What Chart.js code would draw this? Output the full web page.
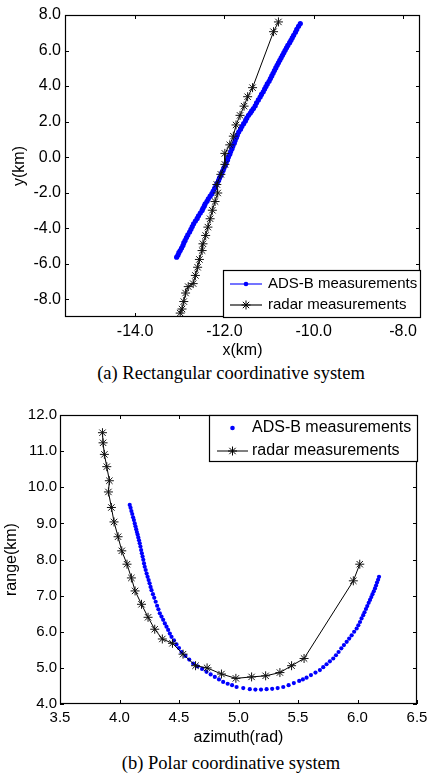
<!DOCTYPE html>
<html>
<head>
<meta charset="utf-8">
<script src="https://cdn.jsdelivr.net/npm/chart.js@4.4.1/dist/chart.umd.min.js"></script>
<style>
  body { margin: 0; background: #fff; }
  #lienzo { position: relative; width: 428px; height: 774px; }
  canvas { position: absolute; left: 0; }
  .pie {
    position: absolute; left: 231px; transform: translateX(-50%);
    font-family: 'Liberation Serif', 'Times New Roman', serif; font-size: 18.5px;
    line-height: 20px; white-space: nowrap; color: #000;
  }
</style>
</head>
<body>
<div id="lienzo">
  <canvas id="graficoXY" width="428" height="362" style="top:0"></canvas>
  <div class="pie" style="top:363px">(a) Rectangular coordinative system</div>
  <canvas id="graficoPolar" width="428" height="360" style="top:390px"></canvas>
  <div class="pie" style="top:753px">(b) Polar coordinative system</div>
</div>
<script>
// Trayectoria ADS-B en coordenadas rectangulares (km)
const adsbX = [-13.07,-13.04,-13.02,-12.99,-12.96,-12.93,-12.91,-12.88,-12.85,-12.82,-12.78,-12.75,-12.72,-12.69,
  -12.65,-12.61,-12.58,-12.54,-12.50,-12.48,-12.45,-12.43,-12.39,-12.36,-12.32,-12.28,-12.25,-12.22,-12.19,-12.16,-12.13,
  -12.11,-12.08,-12.06,-12.03,-12.01,-11.98,-11.96,-11.93,-11.91,-11.88,-11.86,-11.83,-11.81,-11.78,-11.76,-11.73,-11.71,-11.68,
  -11.64,-11.61,-11.57,-11.53,-11.50,-11.46,-11.42,-11.39,-11.35,-11.31,-11.28,-11.24,-11.20,
  -11.17,-11.13,-11.10,-11.07,-11.04,-11.00,-10.97,-10.94,-10.91,-10.88,-10.85,-10.82,
  -10.79,-10.76,-10.73,-10.70,-10.67,-10.64,-10.61,-10.58,-10.54,-10.51,-10.48,-10.45,-10.41,-10.38,-10.34,-10.30];
const adsbY = [-5.63,-5.51,-5.38,-5.26,-5.12,-4.98,-4.83,-4.69,-4.53,-4.38,-4.22,-4.06,-3.91,-3.75,
  -3.60,-3.45,-3.30,-3.15,-3.00,-2.88,-2.75,-2.63,-2.49,-2.35,-2.20,-2.06,-1.91,-1.76,-1.61,-1.46,-1.31,
  -1.17,-1.03,-0.89,-0.75,-0.61,-0.47,-0.31,-0.16,0.00,0.16,0.31,0.47,0.63,0.78,0.94,1.10,1.25,1.41,
  1.57,1.72,1.88,2.04,2.19,2.35,2.48,2.60,2.73,2.89,3.06,3.22,3.38,
  3.53,3.68,3.83,3.97,4.12,4.27,4.42,4.57,4.72,4.87,5.02,5.17,
  5.31,5.45,5.59,5.73,5.87,6.01,6.15,6.29,6.44,6.58,6.72,6.86,7.03,7.19,7.36,7.52];

// Medidas del radar en coordenadas rectangulares (km)
const radarX = [-10.79,-10.90,-11.37,-11.48,-11.56,-11.65,-11.74,-11.80,-11.88,-11.99,-11.99,-12.08,-12.17,-12.15,-12.21,
  -12.27,-12.32,-12.37,-12.42,-12.48,-12.50,-12.56,-12.60,-12.65,-12.70,-12.81,-12.87,-12.91,-12.95,-12.99];
const radarY = [7.61,7.06,3.91,3.40,2.87,2.35,1.81,1.18,0.69,0.21,-0.41,-0.97,-1.54,-2.02,-2.50,
  -2.99,-3.47,-3.94,-4.41,-4.88,-5.26,-5.76,-6.20,-6.66,-7.12,-7.29,-7.65,-8.13,-8.55,-8.78];

// Trayectoria ADS-B en coordenadas polares: azimut (rad) y rango (km)
const adsbAzimut = [4.086,4.093,4.100,4.107,4.114,4.121,4.128,4.134,4.140,4.146,4.152,4.158,4.164,4.170,
  4.176,4.182,4.188,4.194,4.200,4.206,4.212,4.220,4.228,4.236,4.245,4.253,4.261,4.269,
  4.281,4.292,4.304,4.316,4.327,4.339,4.353,4.367,4.381,4.395,4.409,4.423,4.437,
  4.458,4.479,4.500,4.521,4.554,4.586,4.619,4.656,4.694,4.731,4.766,4.801,4.836,4.871,
  4.909,4.946,4.984,5.040,5.095,5.142,5.189,5.236,5.283,5.329,5.376,5.421,5.465,5.510,5.541,5.572,
  5.609,5.647,5.684,5.712,5.740,5.768,5.796,5.819,5.841,5.864,5.886,5.909,5.930,5.951,5.972,5.993,
  6.007,6.021,6.034,6.048,6.059,6.071,6.082,6.094,6.105,6.116,6.126,6.137,6.147,6.156,6.164,6.173,6.181];
const adsbRango = [9.51,9.43,9.34,9.26,9.17,9.09,9.00,8.92,8.84,8.76,8.69,8.61,8.53,8.45,
  8.36,8.26,8.17,8.08,7.99,7.89,7.80,7.71,7.61,7.52,7.43,7.34,7.24,7.15,
  7.04,6.94,6.83,6.72,6.62,6.51,6.42,6.33,6.23,6.14,6.05,5.95,5.86,
  5.76,5.65,5.55,5.44,5.33,5.23,5.12,5.04,4.97,4.89,4.82,4.75,4.68,4.61,
  4.56,4.52,4.47,4.44,4.41,4.40,4.40,4.41,4.42,4.44,4.47,4.52,4.58,4.64,4.68,4.73,
  4.80,4.87,4.94,5.02,5.10,5.18,5.26,5.35,5.44,5.54,5.63,5.72,5.81,5.90,6.00,6.09,
  6.18,6.27,6.37,6.46,6.54,6.63,6.71,6.80,6.88,6.96,7.04,7.12,7.20,7.28,7.36,7.44,7.52];

// Medidas del radar en coordenadas polares
const radarAzimut = [3.857,3.862,3.873,3.893,3.915,3.907,3.932,3.954,3.988,4.019,4.063,4.100,4.131,4.185,4.240,
  4.296,4.360,4.445,4.534,4.639,4.736,4.857,4.978,5.110,5.228,5.348,5.446,5.551,5.965,6.019];
const radarRango = [11.51,11.23,10.91,10.57,10.18,9.87,9.44,9.04,8.63,8.24,7.87,7.49,7.13,6.76,6.40,
  6.07,5.80,5.68,5.38,5.06,5.00,4.83,4.71,4.75,4.78,4.87,5.06,5.26,7.41,7.87];

// Marcas de los ejes
const ticksXRect = [-14, -12, -10, -8];
const ticksYRect = [-8, -6, -4, -2, 0, 2, 4, 6, 8];
const ticksAzimut = [3.5, 4.0, 4.5, 5.0, 5.5, 6.0, 6.5];
const ticksRango = [4, 5, 6, 7, 8, 9, 10, 11, 12];

const AZUL = '#0000ff';
Chart.defaults.font.family = "'Liberation Sans', Arial, sans-serif";
Chart.defaults.color = '#000';

// Une dos listas en puntos {x, y}
function aPuntos(xs, ys) {
  return xs.map((v, i) => ({ x: v, y: ys[i] }));
}

// Asterisco de 8 brazos (como el marcador '*')
function dibujarEstrella(ctx, x, y, r) {
  const d = r * 0.707;
  ctx.beginPath();
  ctx.moveTo(x - r, y); ctx.lineTo(x + r, y);
  ctx.moveTo(x, y - r); ctx.lineTo(x, y + r);
  ctx.moveTo(x - d, y - d); ctx.lineTo(x + d, y + d);
  ctx.moveTo(x - d, y + d); ctx.lineTo(x + d, y - d);
  ctx.stroke();
}

// Caja cerrada con marcas hacia dentro en los cuatro lados
const marcoCaja = {
  id: 'marcoCaja',
  afterDatasetsDraw(chart) {
    const { ctx, chartArea: a, scales: { x, y } } = chart;
    const largo = 4;
    ctx.save();
    ctx.strokeStyle = '#000';
    ctx.lineWidth = 1;
    ctx.beginPath();
    x.ticks.forEach(t => {
      const px = Math.round(x.getPixelForValue(t.value)) + 0.5;
      ctx.moveTo(px, a.bottom); ctx.lineTo(px, a.bottom - largo);
      ctx.moveTo(px, a.top); ctx.lineTo(px, a.top + largo);
    });
    y.ticks.forEach(t => {
      const py = Math.round(y.getPixelForValue(t.value)) + 0.5;
      ctx.moveTo(a.left, py); ctx.lineTo(a.left + largo, py);
      ctx.moveTo(a.right, py); ctx.lineTo(a.right - largo, py);
    });
    ctx.stroke();
    ctx.lineWidth = 1.2;
    ctx.strokeRect(Math.round(a.left) + 0.5, Math.round(a.top) + 0.5,
      Math.round(a.right - a.left) - 1, Math.round(a.bottom - a.top) - 1);
    ctx.restore();
  }
};

// Leyenda dibujada a mano dentro del área del gráfico
function crearLeyenda(cfg) {
  return {
    id: 'leyenda',
    afterDraw(chart) {
      const ctx = chart.ctx;
      ctx.save();
      ctx.fillStyle = '#fff';
      ctx.fillRect(cfg.x0, cfg.y0, cfg.x1 - cfg.x0, cfg.y1 - cfg.y0);
      ctx.strokeStyle = '#000';
      ctx.lineWidth = 1.2;
      ctx.strokeRect(cfg.x0 + 0.5, cfg.y0 + 0.5, cfg.x1 - cfg.x0 - 1, cfg.y1 - cfg.y0 - 1);
      ctx.font = cfg.fuente + "px 'Liberation Sans', Arial, sans-serif";
      ctx.textBaseline = 'middle';
      cfg.entradas.forEach(e => {
        const cx = (cfg.lineaDesde + cfg.lineaHasta) / 2;
        if (e.colorLinea) {
          ctx.strokeStyle = e.colorLinea;
          ctx.lineWidth = e.grosor;
          ctx.beginPath();
          ctx.moveTo(cfg.lineaDesde, e.y); ctx.lineTo(cfg.lineaHasta, e.y);
          ctx.stroke();
        }
        if (e.marca === 'punto') {
          ctx.fillStyle = AZUL;
          ctx.beginPath(); ctx.arc(cx, e.y, 2.3, 0, Math.PI * 2); ctx.fill();
        } else {
          ctx.strokeStyle = '#000';
          ctx.lineWidth = 1;
          dibujarEstrella(ctx, cx, e.y, 4.5);
        }
        ctx.fillStyle = '#000';
        ctx.fillText(e.texto, cfg.textoX, e.y);
      });
      ctx.restore();
    }
  };
}

// Ejes con tamaño fijo para colocar el área del gráfico
function ejeLineal(min, max, marcas, titulo, tam, padTitulo, padTicks, fijarAncho, fijarAlto) {
  return {
    type: 'linear', min: min, max: max,
    grid: { display: false, drawTicks: false },
    border: { display: false },
    afterBuildTicks: s => { s.ticks = marcas.map(v => ({ value: v })); },
    afterFit: s => {
      if (fijarAncho) s.width = fijarAncho;
      if (fijarAlto) s.height = fijarAlto;
      s.paddingLeft = 0; s.paddingRight = 0; s.paddingTop = 0; s.paddingBottom = 0;
    },
    ticks: {
      autoSkip: false, maxRotation: 0, padding: padTicks,
      font: { size: tam },
      callback: v => Number(v).toFixed(1)
    },
    title: { display: true, text: titulo, font: { size: 16 }, padding: padTitulo }
  };
}

const opcionesBase = {
  responsive: false,
  animation: false,
  events: [],
  plugins: { legend: { display: false }, tooltip: { enabled: false } }
};

// Gráfico (a): plano x-y
new Chart(document.getElementById('graficoXY'), {
  type: 'scatter',
  data: {
    datasets: [
      {
        data: aPuntos(radarX, radarY),
        showLine: true, borderColor: '#000', borderWidth: 1,
        pointStyle: 'star', pointRadius: 4.5, pointBorderColor: '#111', pointBorderWidth: 1,
        pointBackgroundColor: '#000'
      },
      {
        data: aPuntos(adsbX, adsbY),
        showLine: true, borderColor: AZUL, borderWidth: 1,
        pointRadius: 2.6, pointBorderWidth: 0, pointBackgroundColor: AZUL
      }
    ]
  },
  options: {
    ...opcionesBase,
    layout: { padding: { top: 15, right: 8, left: 0, bottom: 0 } },
    scales: {
      x: ejeLineal(-15.57, -7.62, ticksXRect, 'x(km)', 16, { bottom: 2 }, 5, null, 45),
      y: ejeLineal(-9, 8, ticksYRect, 'y(km)', 16, { top: 10 }, 4, 65, null)
    }
  },
  plugins: [marcoCaja, crearLeyenda({
    x0: 223, y0: 270, x1: 421, y1: 318, fuente: 15,
    lineaDesde: 230, lineaHasta: 262, textoX: 268,
    entradas: [
      { texto: 'ADS-B measurements', y: 284, marca: 'punto', colorLinea: '#7474ff', grosor: 2 },
      { texto: 'radar measurements', y: 305, marca: 'estrella', colorLinea: '#707070', grosor: 2 }
    ]
  })]
});

// Gráfico (b): azimut-rango
new Chart(document.getElementById('graficoPolar'), {
  type: 'scatter',
  data: {
    datasets: [
      {
        data: aPuntos(radarAzimut, radarRango),
        showLine: true, borderColor: '#000', borderWidth: 1,
        pointStyle: 'star', pointRadius: 4.5, pointBorderColor: '#111', pointBorderWidth: 1,
        pointBackgroundColor: '#000'
      },
      {
        data: aPuntos(adsbAzimut, adsbRango),
        showLine: false,
        pointRadius: 2.1, pointBorderWidth: 0, pointBackgroundColor: AZUL
      }
    ]
  },
  options: {
    ...opcionesBase,
    layout: { padding: { top: 25, right: 11, left: 0, bottom: 0 } },
    scales: {
      x: ejeLineal(3.5, 6.5, ticksAzimut, 'azimuth(rad)', 15, { bottom: 3 }, 5, null, 46),
      y: ejeLineal(4, 12, ticksRango, 'range(km)', 15, { top: 2 }, 3, 60, null)
    }
  },
  plugins: [marcoCaja, crearLeyenda({
    x0: 209, y0: 25, x1: 418, y1: 72, fuente: 16,
    lineaDesde: 217, lineaHasta: 248, textoX: 252,
    entradas: [
      { texto: 'ADS-B measurements', y: 38, marca: 'punto', colorLinea: null, grosor: 0 },
      { texto: 'radar measurements', y: 61, marca: 'estrella', colorLinea: '#000', grosor: 1 }
    ]
  })]
});
</script>
</body>
</html>
